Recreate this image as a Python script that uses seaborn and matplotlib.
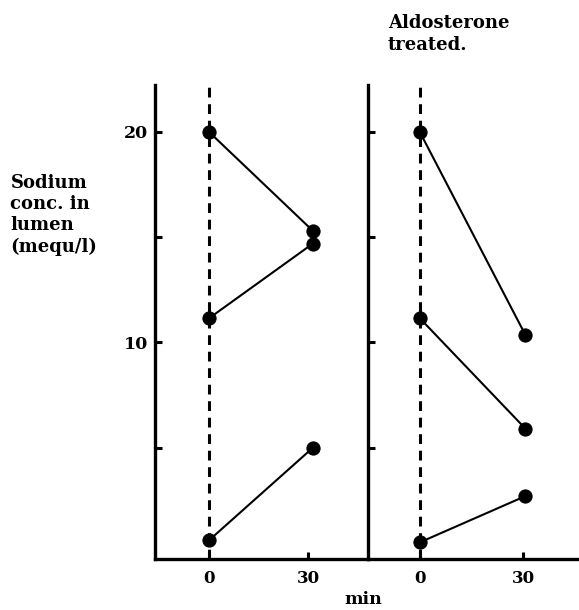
import matplotlib
matplotlib.use("Agg")
import matplotlib.pyplot as plt
import seaborn as sns
import pandas as pd

# Data
time_control = [0, 31.5]
time_treated = [0, 30.6]
control_start = [20.0, 11.15, 0.6]
control_end = [15.3, 14.7, 5.0]
treated_start = [20.0, 11.15, 0.5]
treated_end = [10.35, 5.9, 2.7]
y_ticks = [5, 10, 15, 20]
y_ticklabels = ["", "10", "", "20"]
x_ticks = [0, 30]
x_ticklabels = ["0", "30"]

rows = []
for panel, t, starts, ends in [("control", time_control, control_start, control_end),
                               ("treated", time_treated, treated_start, treated_end)]:
    for i, (s, e) in enumerate(zip(starts, ends)):
        rows.append(dict(panel=panel, subject=i, time=t[0], sodium=s))
        rows.append(dict(panel=panel, subject=i, time=t[1], sodium=e))
df = pd.DataFrame(rows)

sns.set_theme(style="white")
plt.rcParams["font.family"] = ["DejaVu Serif"]
plt.rcParams["font.weight"] = "bold"
plt.rcParams["text.color"] = "black"

fig = plt.figure(figsize=(5.79, 6.10), dpi=100)
ax1 = fig.add_axes([0.2677, 0.0836, 0.3679, 0.7770])
ax2 = fig.add_axes([0.6356, 0.0836, 0.3644, 0.7770], sharey=ax1)

xlims = {"control": (-16.4, 48.2), "treated": (-15.0, 46.1)}
for ax, panel in [(ax1, "control"), (ax2, "treated")]:
    sub = df[df.panel == panel]
    ax.axvline(0, color="black", lw=2.2, ls=(0, (3.2, 2.2)), zorder=1)
    sns.lineplot(data=sub, x="time", y="sodium", units="subject", estimator=None,
                 color="black", lw=1.5, marker="o", markersize=9.5,
                 markeredgecolor="black", ax=ax, zorder=3, legend=False)
    ax.set_xlim(*xlims[panel])
    ax.set_ylim(-0.29, 22.23)
    ax.set_xlabel("")
    ax.set_ylabel("")
    ax.set_xticks(x_ticks)
    ax.set_xticklabels(x_ticklabels, fontsize=12, fontweight="bold", color="black")
    ax.set_yticks(y_ticks)
    for s in ["top", "right"]:
        ax.spines[s].set_visible(False)
    for s in ["left", "bottom"]:
        ax.spines[s].set_linewidth(2.4)
        ax.spines[s].set_color("black")
    ax.tick_params(direction="in", length=5, width=2.2, colors="black",
                   left=True, bottom=True)
    ax.tick_params(axis="x", pad=8)
    ax.set_facecolor("none")

ax1.set_yticklabels(y_ticklabels, fontsize=12.5, fontweight="bold", color="black")
ax1.tick_params(axis="y", pad=5)
ax2.tick_params(axis="y", labelleft=False)

fig.text(0.018, 1 - 174 / 610, "Sodium\nconc. in\nlumen\n(mequ/l)", fontsize=13,
         fontweight="bold", va="top", ha="left", linespacing=1.22, color="black")
fig.text(388 / 579, 1 - 14 / 610, "Aldosterone\ntreated.", fontsize=13,
         fontweight="bold", va="top", ha="left", linespacing=1.3, color="black")
fig.text(363 / 579, 2 / 610, "min", fontsize=12.5, fontweight="bold",
         ha="center", va="bottom", color="black")

fig.savefig("out.png", dpi=100)
